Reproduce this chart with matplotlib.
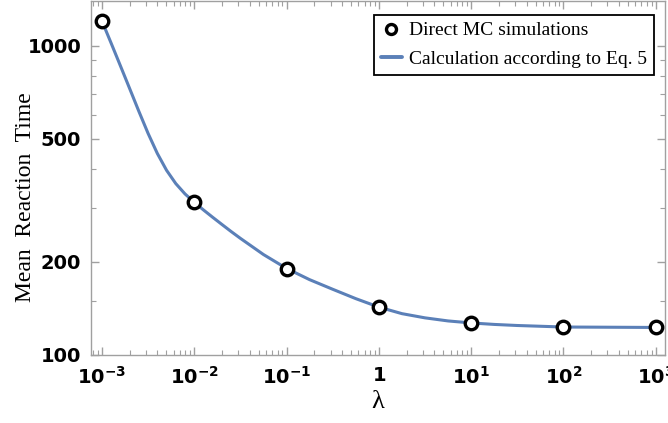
import numpy as np
import matplotlib.pyplot as plt
from matplotlib.ticker import FixedLocator, NullFormatter, FixedFormatter

# Direct MC simulation points
mc_lambda = [1e-3, 1e-2, 1e-1, 1, 1e1, 1e2, 1e3]
mc_time = [1205, 312, 190, 143, 127, 123, 123]

# Eq. 5 curve (log10 of lambda, time)
log_lambda_curve = [-3.0, -2.9, -2.8, -2.7, -2.6, -2.5, -2.4, -2.3, -2.2, -2.1,
                    -2.0, -1.9, -1.8, -1.7, -1.6, -1.5, -1.25, -1.0, -0.75, -0.5,
                    -0.25, 0.0, 0.25, 0.5, 0.75, 1.0, 1.25, 1.5, 2.0, 2.5, 3.0]
time_curve = [1205, 1021, 863, 728.6, 614.6, 521.3, 449, 396, 358.6, 332,
              312, 294.6, 278.9, 264.4, 250.8, 238.4, 211.3, 190.5, 175.2, 163.1,
              152.1, 142.8, 136, 131.8, 128.8, 126.9, 125.5, 124.5, 123.1, 122.9, 122.7]

xtick_pos = [1e-3, 1e-2, 1e-1, 1, 1e1, 1e2, 1e3]
xtick_lab = [r'$\mathbf{10^{-3}}$', r'$\mathbf{10^{-2}}$', r'$\mathbf{10^{-1}}$',
             r'$\mathbf{1}$', r'$\mathbf{10^{1}}$', r'$\mathbf{10^{2}}$', r'$\mathbf{10^{3}}$']
ytick_pos = [100, 200, 500, 1000]
ytick_lab = ['100', '200', '500', '1000']

LINE_COLOR = '#5b80b8'
SPINE_COLOR = '#a0a0a0'

fig = plt.figure(figsize=(6.68, 4.23), dpi=100)
ax = fig.add_axes([0.136, 0.161, 0.8595, 0.837])

lam_curve = 10.0 ** np.array(log_lambda_curve)
ax.plot(lam_curve, time_curve, color=LINE_COLOR, lw=2.2, solid_capstyle='round',
        solid_joinstyle='round', label='Calculation according to Eq. 5', zorder=2)
ax.plot(mc_lambda, mc_time, 'o', ms=9, mfc='white', mec='black', mew=2.4,
        label='Direct MC simulations', zorder=3)

ax.set_xscale('log')
ax.set_yscale('log')
ax.set_xlim(10 ** -3.12, 10 ** 3.1)
ax.set_ylim(100, 1400)

ax.xaxis.set_major_locator(FixedLocator(xtick_pos))
ax.xaxis.set_major_formatter(FixedFormatter(xtick_lab))
minor_x = [m * 10.0 ** e for e in range(-4, 4) for m in range(2, 10)]
ax.xaxis.set_minor_locator(FixedLocator(minor_x))
ax.xaxis.set_minor_formatter(NullFormatter())

ax.yaxis.set_major_locator(FixedLocator(ytick_pos))
ax.yaxis.set_major_formatter(FixedFormatter(ytick_lab))
ax.yaxis.set_minor_locator(FixedLocator([150, 300, 400, 600, 700, 800, 900]))
ax.yaxis.set_minor_formatter(NullFormatter())

for s in ax.spines.values():
    s.set_color(SPINE_COLOR)
    s.set_linewidth(1.0)

ax.tick_params(which='both', direction='in', top=True, right=True, color=SPINE_COLOR)
ax.tick_params(which='major', length=6, width=1.0, labelsize=14)
ax.tick_params(axis='x', which='major', pad=8)
ax.tick_params(axis='y', which='major', pad=7)
ax.tick_params(which='minor', length=3.5, width=0.8)
for lab in ax.get_yticklabels():
    lab.set_fontweight('bold')

ax.set_xlabel('λ', family='Liberation Serif', fontsize=19, labelpad=2)
ax.set_ylabel('Mean  Reaction  Time', family='Liberation Serif', fontsize=17)
ax.yaxis.set_label_coords(-0.095, 0.445)

handles, labels = ax.get_legend_handles_labels()
leg = ax.legend(handles[::-1], labels[::-1], loc='upper right',
                bbox_to_anchor=(0.98, 0.96), prop={'family': 'Liberation Serif', 'size': 14},
                frameon=True, fancybox=False, edgecolor='black', framealpha=1,
                handlelength=1.1, handletextpad=0.35, borderpad=0.35, labelspacing=0.55,
                borderaxespad=0, markerscale=0.8)
leg.get_frame().set_linewidth(1.3)
for h in leg.legend_handles:
    if h.get_label().startswith('Calc'):
        h.set_linewidth(2.8)

fig.savefig('out.png', dpi=100)
